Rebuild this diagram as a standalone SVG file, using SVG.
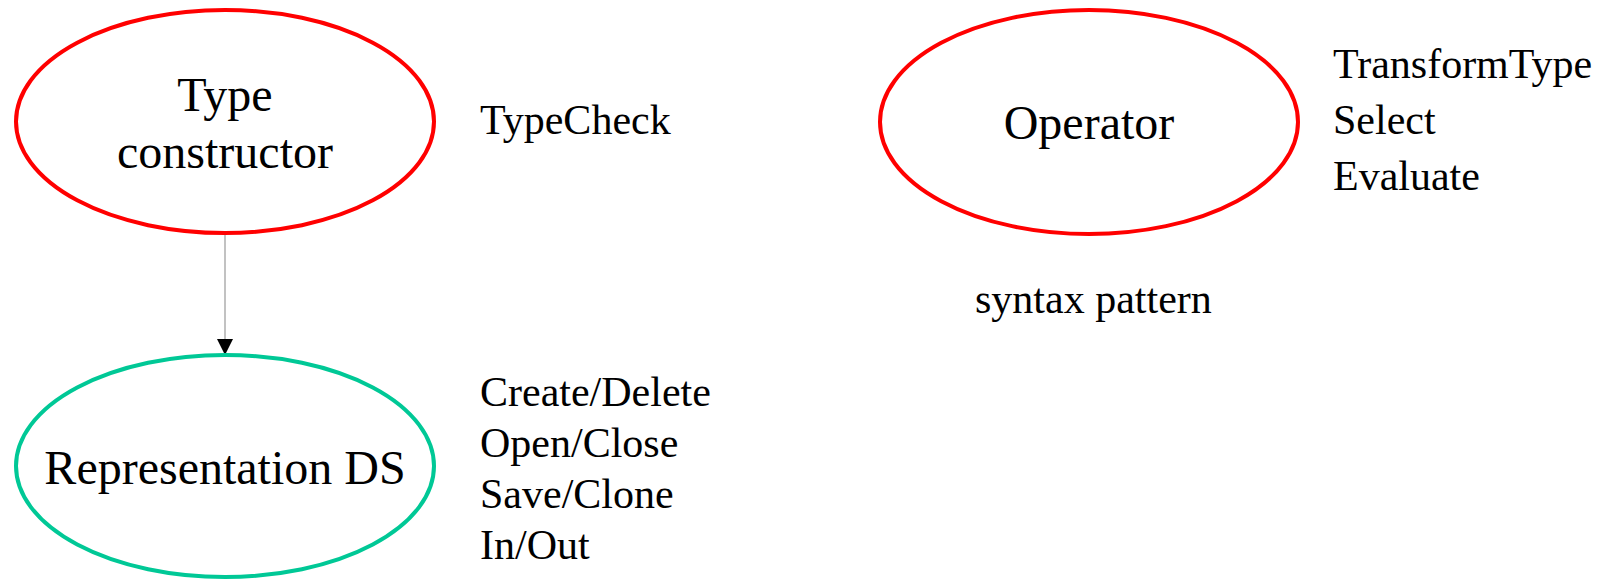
<svg xmlns="http://www.w3.org/2000/svg" width="1610" height="579" viewBox="0 0 1610 579">
<style>
.bg{fill:#ffffff}
.n{fill:none;stroke-width:4}
.red{stroke:#ff0000}
.teal{stroke:#00c896}
.t{font-family:"Liberation Serif","Times New Roman",serif;fill:#000}
.big{font-size:48px;text-anchor:middle}
.lbl{font-size:42px}
.edge{stroke:#999999;stroke-width:1.2;fill:none}
</style>
<defs>
<marker id="ah" markerWidth="16" markerHeight="16" refX="16" refY="8" orient="auto" markerUnits="userSpaceOnUse">
<path d="M0,0 L16,8 L0,16 Z" fill="#000"/>
</marker>
</defs>
<rect class="bg" x="0" y="0" width="1610" height="579"/>
<g id="connectors">
<line class="edge" x1="225" y1="233" x2="225" y2="355" marker-end="url(#ah)"/>
</g>
<g id="type-constructor">
<ellipse class="n red" cx="225" cy="121.5" rx="209" ry="111.5"/>
<text class="t big" x="225" y="111">Type</text>
<text class="t big" x="225" y="168">constructor</text>
</g>
<g id="representation-ds">
<ellipse class="n teal" cx="225" cy="466" rx="209" ry="111"/>
<text class="t big" x="225" y="484">Representation DS</text>
</g>
<g id="operator">
<ellipse class="n red" cx="1089" cy="122" rx="209" ry="112"/>
<text class="t big" x="1089" y="139">Operator</text>
</g>
<g id="labels">
<text class="t lbl" x="480" y="134">TypeCheck</text>
<text class="t lbl" x="480" y="406">Create/Delete</text>
<text class="t lbl" x="480" y="457">Open/Close</text>
<text class="t lbl" x="480" y="508">Save/Clone</text>
<text class="t lbl" x="480" y="559">In/Out</text>
<text class="t lbl" x="1333" y="78">TransformType</text>
<text class="t lbl" x="1333" y="134">Select</text>
<text class="t lbl" x="1333" y="190">Evaluate</text>
<text class="t lbl" x="975" y="313">syntax pattern</text>
</g>
</svg>
